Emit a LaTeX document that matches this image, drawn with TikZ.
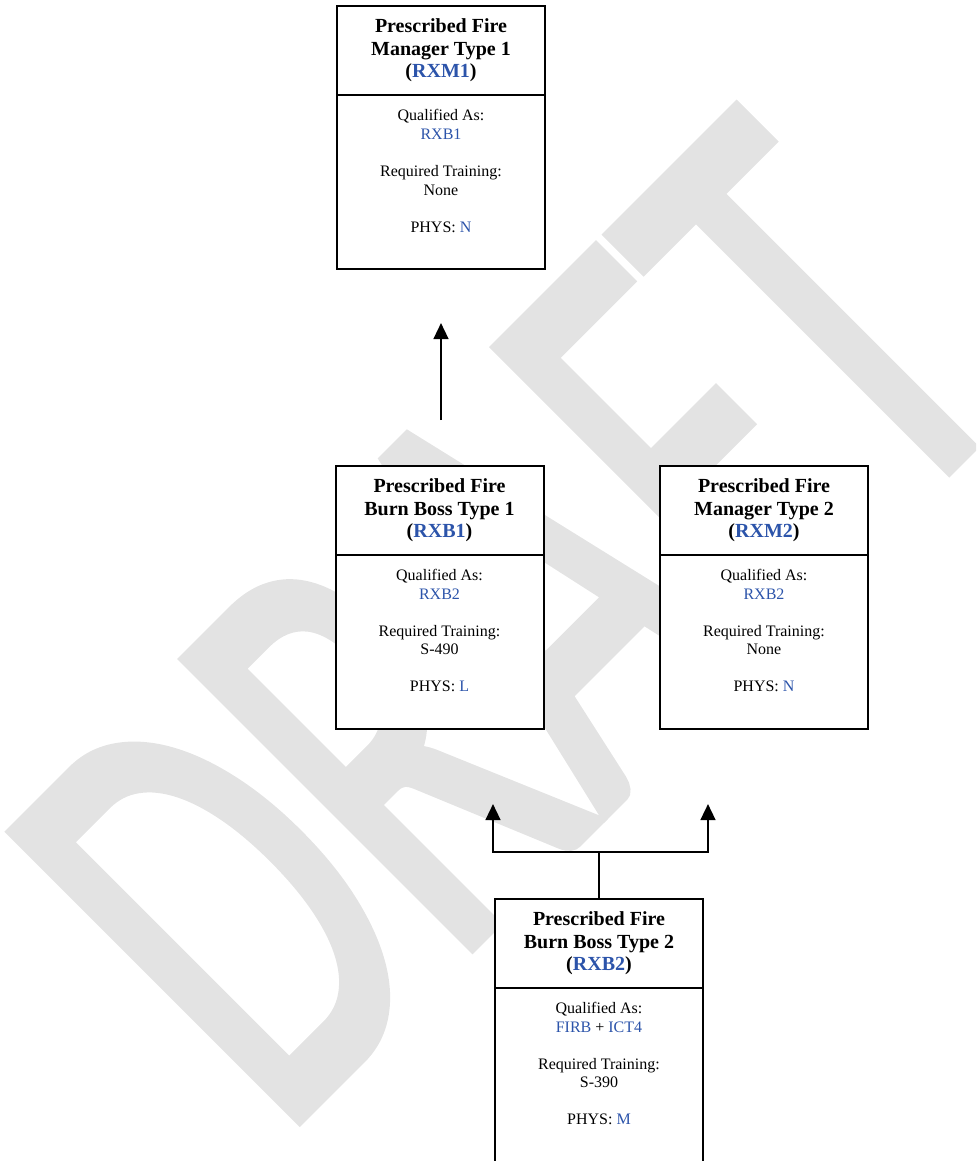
\documentclass[tikz,border=0pt]{standalone}
\usepackage{fontspec}
\setmainfont{Liberation Serif}
\newfontfamily\wmfont[FakeBold=2]{Carlito}
\usetikzlibrary{arrows.meta,calc}
\definecolor{qblue}{RGB}{44,84,170}
\definecolor{wmgray}{RGB}{227,227,227}
\begin{document}
\begin{tikzpicture}[x=0.75pt,y=-0.75pt,
  hdr/.style={draw=black, line width=1.5pt, fill=white, minimum width=156pt, minimum height=66.4pt, inner sep=0pt, outer sep=0pt, align=center, font=\fontsize{15}{17}\selectfont\bfseries},
  bodybox/.style={draw=black, line width=1.5pt, fill=white, minimum width=156pt, minimum height=130.5pt, inner sep=0pt, outer sep=0pt, anchor=north},
  bodytxt/.style={inner sep=0pt, align=center, anchor=north, font=\fontsize{12}{13.9}\selectfont},
  conn/.style={line width=1.8pt, line join=miter},
  tipend/.style={-{Triangle[length=12pt,width=11pt]}},
  tipboth/.style={{Triangle[length=12pt,width=11pt]}-{Triangle[length=12pt,width=11pt]}},
]
\clip (0,0) rectangle (976,1161);
% watermark
\begin{scope}[shift={(279,1139)}, rotate=45, yscale=1.6]
\node[transform shape, anchor=base west, inner sep=0pt, text=wmgray, font=\wmfont\fontsize{296}{296}\selectfont] (wm) at (0,0) {DRAFT};
\end{scope}
% RXM1
\node[hdr] (rxm1h) at (441,50.5) {Prescribed Fire\\Manager Type 1\\(\textcolor{qblue}{RXM1})};
\node[bodybox] (rxm1b) at (rxm1h.south) {};
\node[bodytxt] (rxm1t) at ($(rxm1b.north)+(0,14.6)$) {Qualified As:\\\textcolor{qblue}{RXB1}\\[13.9pt]Required Training:\\None\\[13.9pt]PHYS: \textcolor{qblue}{N}};
% RXB1
\node[hdr] (rxb1h) at (439.5,510.25) {Prescribed Fire\\Burn Boss Type 1\\(\textcolor{qblue}{RXB1})};
\node[bodybox] (rxb1b) at (rxb1h.south) {};
\node[bodytxt] (rxb1t) at ($(rxb1b.north)+(0,14.6)$) {Qualified As:\\\textcolor{qblue}{RXB2}\\[13.9pt]Required Training:\\S-490\\[13.9pt]PHYS: \textcolor{qblue}{L}};
% RXM2
\node[hdr] (rxm2h) at (764,510.25) {Prescribed Fire\\Manager Type 2\\(\textcolor{qblue}{RXM2})};
\node[bodybox] (rxm2b) at (rxm2h.south) {};
\node[bodytxt] (rxm2t) at ($(rxm2b.north)+(0,14.6)$) {Qualified As:\\\textcolor{qblue}{RXB2}\\[13.9pt]Required Training:\\None\\[13.9pt]PHYS: \textcolor{qblue}{N}};
% RXB2
\node[hdr] (rxb2h) at (599,943.25) {Prescribed Fire\\Burn Boss Type 2\\(\textcolor{qblue}{RXB2})};
\node[bodybox, minimum height=200pt] (rxb2b) at (rxb2h.south) {};
\node[bodytxt] (rxb2t) at ($(rxb2b.north)+(0,14.6)$) {Qualified As:\\\textcolor{qblue}{FIRB} + \textcolor{qblue}{ICT4}\\[13.9pt]Required Training:\\S-390\\[13.9pt]PHYS: \textcolor{qblue}{M}};
% connectors
\coordinate (a1b) at (441,420);
\coordinate (a1t) at (441,323);
\draw[conn,tipend] (a1b) -- (a1t);
\coordinate (jl) at (493,852);
\coordinate (jr) at (708,852);
\coordinate (tl) at (493,804);
\coordinate (tr) at (708,804);
\draw[conn] (rxb2h.north) -- (rxb2h.north |- jl);
\draw[conn,tipboth] (tl) -- (jl) -- (jr) -- (tr);
\end{tikzpicture}
\end{document}
